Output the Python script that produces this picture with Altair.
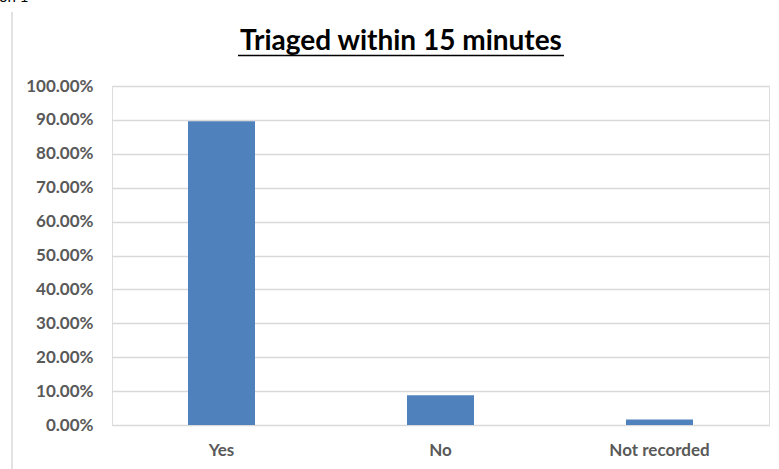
import altair as alt
import pandas as pd

# Share of patients triaged within 15 minutes
categories = ["Yes", "No", "Not recorded"]
shares = [0.896, 0.088, 0.016]
chart_title = "Triaged within 15 minutes"

bars_df = pd.DataFrame({"answer": categories, "share": shares})

BLUE = "#4f81bd"
GREY_TEXT = "#595959"
GRID = "#d9d9d9"
FONT = "Lato"

W, H = 657, 339
PAD_L, PAD_T = 112, 86

bars = alt.Chart(bars_df).mark_bar(color=BLUE).encode(
    x=alt.X(
        "answer:N",
        sort=categories,
        title=None,
        scale=alt.Scale(paddingInner=0.694, paddingOuter=0.347),
        axis=alt.Axis(
            labelAngle=0,
            labelFont=FONT,
            labelFontSize=17,
            labelFontWeight="bold",
            labelColor=GREY_TEXT,
            labelPadding=17,
            ticks=False,
            domain=True,
            domainColor=GRID,
            domainWidth=1,
            grid=False,
        ),
    ),
    y=alt.Y(
        "share:Q",
        title=None,
        scale=alt.Scale(domain=[0, 1], nice=False),
        axis=alt.Axis(
            values=[i / 10 for i in range(11)],
            format=".2%",
            labelFont=FONT,
            labelFontSize=17,
            labelFontWeight="bold",
            labelColor=GREY_TEXT,
            labelPadding=19,
            ticks=False,
            domain=False,
            grid=True,
            gridColor=GRID,
            gridWidth=1.5,
        ),
    ),
)

title_df = pd.DataFrame({"label": [chart_title]})

# chart title, underlined
title_text = alt.Chart(title_df).mark_text(
    align="center", baseline="alphabetic", font=FONT, fontSize=28, fontWeight="bold", color="#000000"
).encode(text="label:N", x=alt.value(289), y=alt.value(-36))

underline = alt.Chart(title_df).mark_rule(color="#000000", strokeWidth=1.5).encode(
    x=alt.value(126), x2=alt.value(452), y=alt.value(-30.5)
)

# frame line on the left edge of the chart area
frame = alt.Chart(title_df).mark_rule(color=GRID, strokeWidth=1.5).encode(
    x=alt.value(-100), y=alt.value(-74), y2=alt.value(H + 50)
)

# heading text running off the top edge
heading = alt.Chart(title_df).mark_text(
    text="on 1", align="left", baseline="alphabetic", font=FONT, fontSize=15, color="#000000"
).encode(x=alt.value(-113), y=alt.value(-84.5))

chart = (
    alt.layer(frame, bars, title_text, underline, heading)
    .properties(
        width=W,
        height=H,
        padding={"left": PAD_L, "top": PAD_T, "right": 779 - PAD_L - W, "bottom": 469 - PAD_T - H},
        autosize=alt.AutoSizeParams(type="none"),
    )
    .configure_view(stroke=None)
    .configure(background="#ffffff")
)

chart.save("out.html", embed_options={"renderer": "svg", "actions": False})
